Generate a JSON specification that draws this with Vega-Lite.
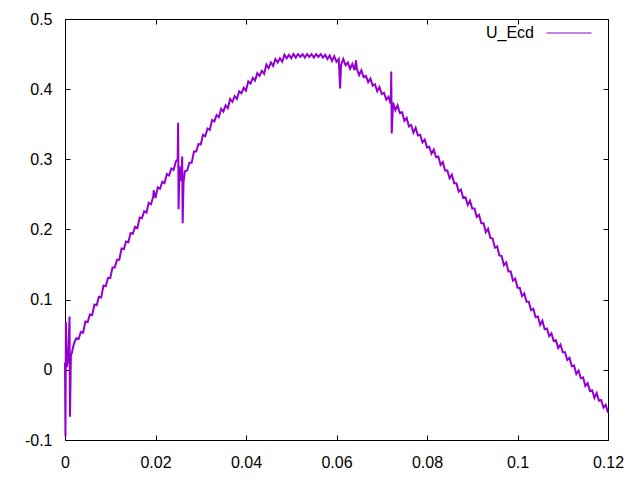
{
"$schema": "https://vega.github.io/schema/vega-lite/v6.json",
"width": 543, "height": 421,
"autosize": {"type": "none"},
"padding": {"left": 65, "top": 19, "right": 32, "bottom": 40},
"background": "white",
"config": {
  "view": {"stroke": "black", "strokeWidth": 1},
  "font": "Liberation Sans",
  "axis": {"domainColor": "black", "tickColor": "black", "labelColor": "black", "labelFontSize": 16, "labelFont": "Liberation Sans", "tickSize": -5, "grid": false, "title": null, "domainWidth": 1, "tickWidth": 1}
},
"data": {"values": [
{"x":0.0000,"y":0.010},{"x":0.0001,"y":-0.095},{"x":0.0002,"y":0.068},{"x":0.0004,"y":0.004},{"x":0.0007,"y":0.015},{"x":0.0010,"y":0.076},{"x":0.0011,"y":-0.067},{"x":0.0013,"y":0.020},{"x":0.0015,"y":0.024},{"x":0.0020,"y":0.038},
{"x":0.0025,"y":0.045},{"x":0.0030,"y":0.044},{"x":0.0035,"y":0.054},{"x":0.0040,"y":0.053},{"x":0.0045,"y":0.069},{"x":0.0050,"y":0.068},{"x":0.0055,"y":0.079},{"x":0.0060,"y":0.078},
{"x":0.0065,"y":0.093},{"x":0.0070,"y":0.092},{"x":0.0075,"y":0.104},{"x":0.0080,"y":0.103},{"x":0.0085,"y":0.120},{"x":0.0090,"y":0.119},{"x":0.0095,"y":0.131},{"x":0.0100,"y":0.131},
{"x":0.0105,"y":0.146},{"x":0.0110,"y":0.146},{"x":0.0115,"y":0.157},{"x":0.0120,"y":0.157},{"x":0.0125,"y":0.173},{"x":0.0130,"y":0.172},{"x":0.0135,"y":0.183},{"x":0.0140,"y":0.182},
{"x":0.0145,"y":0.195},{"x":0.0150,"y":0.194},{"x":0.0155,"y":0.204},{"x":0.0160,"y":0.202},{"x":0.0165,"y":0.217},{"x":0.0170,"y":0.216},{"x":0.0175,"y":0.226},{"x":0.0180,"y":0.224},
{"x":0.0185,"y":0.238},{"x":0.0190,"y":0.236},{"x":0.0195,"y":0.247},{"x":0.0196,"y":0.256},{"x":0.0200,"y":0.245},{"x":0.0205,"y":0.260},{"x":0.0210,"y":0.258},{"x":0.0215,"y":0.268},{"x":0.0220,"y":0.266},
{"x":0.0225,"y":0.279},{"x":0.0230,"y":0.277},{"x":0.0235,"y":0.287},{"x":0.0240,"y":0.285},{"x":0.0245,"y":0.297},{"x":0.0249,"y":0.300},{"x":0.0250,"y":0.352},{"x":0.0251,"y":0.229},
{"x":0.0253,"y":0.290},{"x":0.0255,"y":0.280},{"x":0.0257,"y":0.269},{"x":0.0259,"y":0.304},{"x":0.0260,"y":0.209},{"x":0.0262,"y":0.268},{"x":0.0265,"y":0.283},{"x":0.0270,"y":0.284},
{"x":0.0275,"y":0.295},{"x":0.0280,"y":0.295},{"x":0.0285,"y":0.311},{"x":0.0290,"y":0.311},{"x":0.0295,"y":0.322},{"x":0.0300,"y":0.321},{"x":0.0305,"y":0.335},{"x":0.0310,"y":0.333},
{"x":0.0315,"y":0.344},{"x":0.0320,"y":0.342},{"x":0.0325,"y":0.356},{"x":0.0330,"y":0.354},{"x":0.0335,"y":0.363},{"x":0.0340,"y":0.360},{"x":0.0345,"y":0.372},{"x":0.0350,"y":0.368},
{"x":0.0355,"y":0.377},{"x":0.0360,"y":0.373},{"x":0.0365,"y":0.386},{"x":0.0370,"y":0.382},{"x":0.0375,"y":0.390},{"x":0.0380,"y":0.386},{"x":0.0385,"y":0.397},{"x":0.0390,"y":0.394},
{"x":0.0395,"y":0.402},{"x":0.0400,"y":0.398},{"x":0.0405,"y":0.411},{"x":0.0410,"y":0.408},{"x":0.0415,"y":0.416},{"x":0.0420,"y":0.412},{"x":0.0425,"y":0.423},{"x":0.0430,"y":0.419},
{"x":0.0435,"y":0.426},{"x":0.0440,"y":0.422},{"x":0.0445,"y":0.435},{"x":0.0450,"y":0.430},{"x":0.0455,"y":0.438},{"x":0.0460,"y":0.433},{"x":0.0465,"y":0.443},{"x":0.0470,"y":0.438},
{"x":0.0475,"y":0.444},{"x":0.0480,"y":0.439},{"x":0.0485,"y":0.449},{"x":0.0490,"y":0.444},{"x":0.0495,"y":0.449},{"x":0.0500,"y":0.444},{"x":0.0505,"y":0.450},{"x":0.0510,"y":0.445},
{"x":0.0515,"y":0.450},{"x":0.0520,"y":0.446},{"x":0.0525,"y":0.450},{"x":0.0530,"y":0.445},{"x":0.0535,"y":0.450},{"x":0.0540,"y":0.446},{"x":0.0545,"y":0.450},{"x":0.0550,"y":0.445},
{"x":0.0555,"y":0.450},{"x":0.0560,"y":0.446},{"x":0.0565,"y":0.450},{"x":0.0570,"y":0.445},{"x":0.0575,"y":0.449},{"x":0.0580,"y":0.443},{"x":0.0585,"y":0.448},{"x":0.0590,"y":0.440},
{"x":0.0595,"y":0.447},{"x":0.0600,"y":0.439},{"x":0.0605,"y":0.443},{"x":0.0608,"y":0.401},{"x":0.0610,"y":0.434},{"x":0.0615,"y":0.443},{"x":0.0620,"y":0.434},{"x":0.0625,"y":0.438},
{"x":0.0630,"y":0.429},{"x":0.0635,"y":0.436},{"x":0.0640,"y":0.427},{"x":0.0643,"y":0.441},{"x":0.0645,"y":0.429},{"x":0.0650,"y":0.420},{"x":0.0655,"y":0.427},{"x":0.0660,"y":0.417},
{"x":0.0665,"y":0.419},{"x":0.0670,"y":0.410},{"x":0.0675,"y":0.415},{"x":0.0680,"y":0.405},{"x":0.0685,"y":0.407},{"x":0.0690,"y":0.397},{"x":0.0695,"y":0.403},{"x":0.0700,"y":0.393},
{"x":0.0705,"y":0.395},{"x":0.0710,"y":0.385},{"x":0.0715,"y":0.389},{"x":0.0720,"y":0.379},{"x":0.0721,"y":0.425},{"x":0.0722,"y":0.337},{"x":0.0725,"y":0.381},{"x":0.0730,"y":0.370},
{"x":0.0735,"y":0.377},{"x":0.0740,"y":0.366},{"x":0.0745,"y":0.367},{"x":0.0750,"y":0.355},{"x":0.0755,"y":0.359},{"x":0.0760,"y":0.347},{"x":0.0765,"y":0.349},{"x":0.0770,"y":0.338},
{"x":0.0775,"y":0.345},{"x":0.0780,"y":0.334},{"x":0.0785,"y":0.335},{"x":0.0790,"y":0.324},{"x":0.0795,"y":0.328},{"x":0.0800,"y":0.317},{"x":0.0805,"y":0.318},{"x":0.0810,"y":0.308},
{"x":0.0815,"y":0.314},{"x":0.0820,"y":0.303},{"x":0.0825,"y":0.304},{"x":0.0830,"y":0.292},{"x":0.0835,"y":0.296},{"x":0.0840,"y":0.284},{"x":0.0845,"y":0.284},{"x":0.0850,"y":0.273},
{"x":0.0855,"y":0.278},{"x":0.0860,"y":0.266},{"x":0.0865,"y":0.266},{"x":0.0870,"y":0.254},{"x":0.0875,"y":0.257},{"x":0.0880,"y":0.245},{"x":0.0885,"y":0.246},{"x":0.0890,"y":0.235},
{"x":0.0895,"y":0.241},{"x":0.0900,"y":0.230},{"x":0.0905,"y":0.230},{"x":0.0910,"y":0.218},{"x":0.0915,"y":0.221},{"x":0.0920,"y":0.209},{"x":0.0925,"y":0.209},{"x":0.0930,"y":0.196},
{"x":0.0935,"y":0.201},{"x":0.0940,"y":0.188},{"x":0.0945,"y":0.187},{"x":0.0950,"y":0.174},{"x":0.0955,"y":0.176},{"x":0.0960,"y":0.163},{"x":0.0965,"y":0.162},{"x":0.0970,"y":0.149},
{"x":0.0975,"y":0.153},{"x":0.0980,"y":0.140},{"x":0.0985,"y":0.140},{"x":0.0990,"y":0.127},{"x":0.0995,"y":0.130},{"x":0.1000,"y":0.117},{"x":0.1005,"y":0.117},{"x":0.1010,"y":0.105},
{"x":0.1015,"y":0.109},{"x":0.1020,"y":0.097},{"x":0.1025,"y":0.097},{"x":0.1030,"y":0.085},{"x":0.1035,"y":0.087},{"x":0.1040,"y":0.075},{"x":0.1045,"y":0.076},{"x":0.1050,"y":0.064},
{"x":0.1055,"y":0.070},{"x":0.1060,"y":0.058},{"x":0.1065,"y":0.059},{"x":0.1070,"y":0.048},{"x":0.1075,"y":0.052},{"x":0.1080,"y":0.041},{"x":0.1085,"y":0.042},{"x":0.1090,"y":0.031},
{"x":0.1095,"y":0.036},{"x":0.1100,"y":0.025},{"x":0.1105,"y":0.025},{"x":0.1110,"y":0.014},{"x":0.1115,"y":0.017},{"x":0.1120,"y":0.005},{"x":0.1125,"y":0.006},{"x":0.1130,"y":-0.006},
{"x":0.1135,"y":-0.001},{"x":0.1140,"y":-0.012},{"x":0.1145,"y":-0.011},{"x":0.1150,"y":-0.023},{"x":0.1155,"y":-0.019},{"x":0.1160,"y":-0.030},{"x":0.1165,"y":-0.029},{"x":0.1170,"y":-0.040},
{"x":0.1175,"y":-0.033},{"x":0.1180,"y":-0.044},{"x":0.1185,"y":-0.043},{"x":0.1190,"y":-0.054},{"x":0.1195,"y":-0.050},{"x":0.1200,"y":-0.061}
]},
"layer": [
  {
    "mark": {"type": "line", "strokeWidth": 2, "interpolate": "linear"},
    "encoding": {
      "x": {"field": "x", "type": "quantitative", "scale": {"domain": [0, 0.12], "nice": false, "zero": false},
            "axis": {"orient": "bottom", "values": [0, 0.02, 0.04, 0.06, 0.08, 0.1, 0.12], "labelExpr": "format(datum.value, '~g')", "labelPadding": 19, "labelFlush": false, "labelOverlap": false}},
      "y": {"field": "y", "type": "quantitative", "scale": {"domain": [-0.1, 0.5], "nice": false, "zero": false},
            "axis": {"orient": "left", "values": [-0.1, 0, 0.1, 0.2, 0.3, 0.4, 0.5], "labelExpr": "replace(format(datum.value, '~g'), '\u2212', '-')", "labelPadding": 18, "labelFlush": false, "labelOverlap": false}},
      "color": {"datum": "U_Ecd", "type": "nominal", "scale": {"range": ["#9400d3"]},
                "legend": {"orient": "none", "legendX": 481, "legendY": -9, "title": null, "symbolType": "stroke", "symbolSize": 2025, "symbolStrokeWidth": 1, "labelFontSize": 16, "labelFont": "Liberation Sans", "labelColor": "black", "labelOffset": -58, "labelAlign": "right", "padding": 0}}
    }
  },
  {
    "mark": {"type": "point", "opacity": 0},
    "encoding": {
      "x": {"field": "x", "type": "quantitative", "axis": {"orient": "top", "labels": false, "values": [0, 0.02, 0.04, 0.06, 0.08, 0.1, 0.12]}},
      "y": {"field": "y", "type": "quantitative", "axis": {"orient": "right", "labels": false, "values": [-0.1, 0, 0.1, 0.2, 0.3, 0.4, 0.5]}}
    }
  }
],
"resolve": {"axis": {"x": "independent", "y": "independent"}}
}
